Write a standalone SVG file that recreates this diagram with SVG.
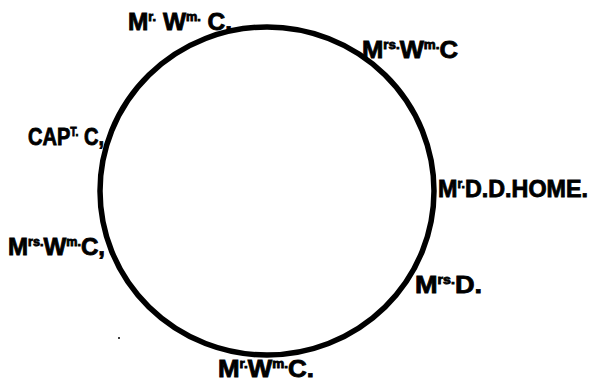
<svg xmlns="http://www.w3.org/2000/svg" width="594" height="383" viewBox="0 0 594 383">
<style>
.lbl{font-family:"Liberation Sans","DejaVu Sans",sans-serif;font-weight:bold;font-size:23px;fill:#000;stroke:#000;stroke-width:0.8}
.sup{font-size:12px}
.ring{fill:none;stroke:#000;stroke-width:5.5}
</style>
<rect width="594" height="383" fill="#fff"/>
<g id="table"><ellipse class="ring" cx="267" cy="191" rx="167" ry="164"/></g>
<g id="connectors"></g>
<g id="n1"><text class="lbl" x="128" y="30" textLength="104" lengthAdjust="spacingAndGlyphs">M<tspan class="sup" dy="-9">r.</tspan><tspan dy="9"> W</tspan><tspan class="sup" dy="-9">m.</tspan><tspan dy="9"> C.</tspan></text></g>
<g id="n2"><text class="lbl" x="362" y="58" textLength="96" lengthAdjust="spacingAndGlyphs">M<tspan class="sup" dy="-9">rs.</tspan><tspan dy="9">W</tspan><tspan class="sup" dy="-9">m.</tspan><tspan dy="9">C</tspan></text></g>
<g id="n3"><text class="lbl" x="28" y="145" textLength="76" lengthAdjust="spacingAndGlyphs">CAP<tspan class="sup" dy="-9">T.</tspan><tspan dy="9"> C,</tspan></text></g>
<g id="n4"><text class="lbl" x="438" y="197" textLength="150" lengthAdjust="spacingAndGlyphs">M<tspan class="sup" dy="-9">r.</tspan><tspan dy="9">D.D.HOME.</tspan></text></g>
<g id="n5"><text class="lbl" x="8" y="255" textLength="97" lengthAdjust="spacingAndGlyphs">M<tspan class="sup" dy="-9">rs.</tspan><tspan dy="9">W</tspan><tspan class="sup" dy="-9">m.</tspan><tspan dy="9">C,</tspan></text></g>
<g id="n6"><text class="lbl" x="415" y="293" textLength="67" lengthAdjust="spacingAndGlyphs">M<tspan class="sup" dy="-9">rs.</tspan><tspan dy="9">D.</tspan></text></g>
<g id="n7"><text class="lbl" x="218" y="377" textLength="96" lengthAdjust="spacingAndGlyphs">M<tspan class="sup" dy="-9">r.</tspan><tspan dy="9">W</tspan><tspan class="sup" dy="-9">m.</tspan><tspan dy="9">C.</tspan></text></g>
<circle cx="119" cy="338" r="1" fill="#000"/>
</svg>
